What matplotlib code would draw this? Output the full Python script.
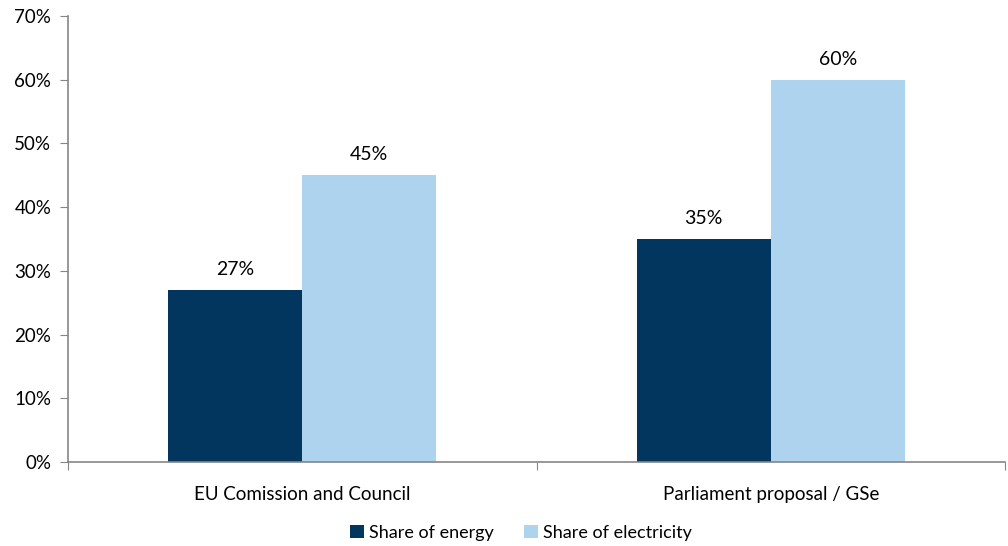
import matplotlib
matplotlib.use("Agg")
import matplotlib.pyplot as plt
import numpy as np
from matplotlib.ticker import FixedLocator, NullFormatter

categories = ["EU Comission and Council", "Parliament proposal / GSe"]
series_names = ["Share of energy", "Share of electricity"]
share_energy = [27, 35]
share_electricity = [45, 60]
yticks = [0, 10, 20, 30, 40, 50, 60, 70]

plt.rcParams['font.family'] = ['Lato', 'DejaVu Sans']
fig = plt.figure(figsize=(10.08, 5.46), dpi=100)
ax = fig.add_axes([68/1008, 1-462/546, (1005-68)/1008, (462-16)/546])

x = np.arange(len(categories))
w = 0.286
dark = "#02365F"
light = "#ADD3EF"
b1 = ax.bar(x - w/2, share_energy, w, color=dark, label=series_names[0])
b2 = ax.bar(x + w/2, share_electricity, w, color=light, label=series_names[1])
for bars, vals in ((b1, share_energy), (b2, share_electricity)):
    for r, v in zip(bars, vals):
        ax.text(r.get_x() + r.get_width()/2, v + 1.9, f"{v}%", ha="center", va="bottom", fontsize=14)

ax.set_xlim(-0.5, 1.5)
ax.set_ylim(0, 70)
ax.set_yticks(yticks)
ax.set_yticklabels([f"{t}%" for t in yticks], fontsize=13.5)
ax.xaxis.set_major_locator(FixedLocator([-0.5, 0.5, 1.5]))
ax.xaxis.set_major_formatter(NullFormatter())
ax.xaxis.set_minor_locator(FixedLocator(list(x)))
ax.set_xticklabels(categories, minor=True, fontsize=13.5)
ax.tick_params(axis='x', which='minor', length=0, pad=17)
ax.tick_params(axis='x', which='major', length=6, color="#868686")
ax.tick_params(axis='y', length=6, color="#868686", pad=6)
for s in ["top", "right"]:
    ax.spines[s].set_visible(False)
for s in ["left", "bottom"]:
    ax.spines[s].set_color("#868686")
    ax.spines[s].set_linewidth(1.2)

fig.legend(handles=[b1, b2], loc="center", bbox_to_anchor=(0.517, 1-533/546), ncol=2,
           frameon=False, fontsize=13, handlelength=0.75, handleheight=0.75,
           handletextpad=0.3, columnspacing=1.7)
fig.savefig("out.png", dpi=100)
